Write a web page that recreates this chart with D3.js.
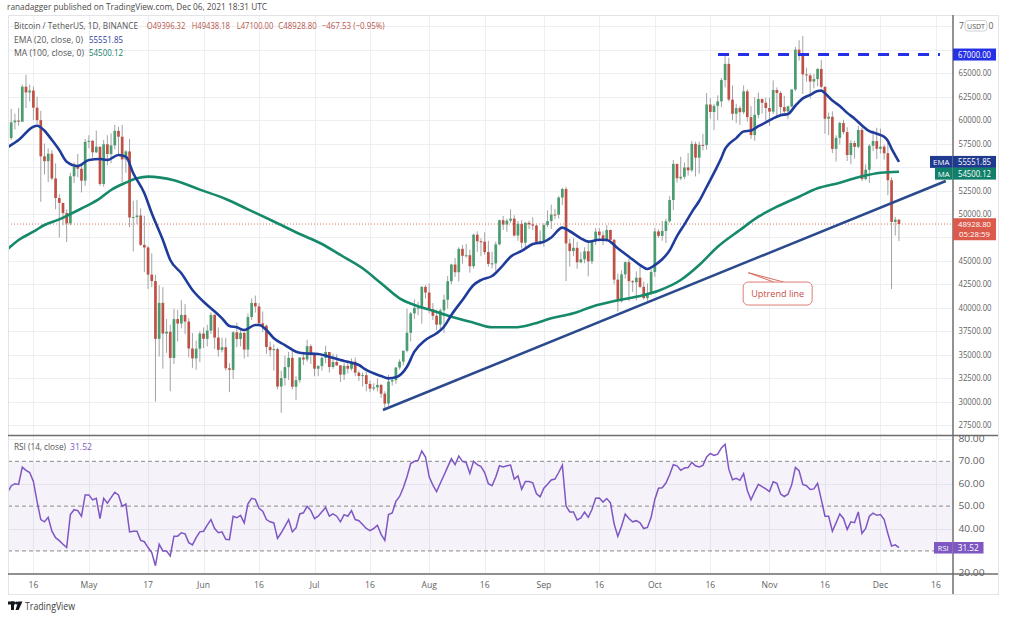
<!DOCTYPE html>
<html><head><meta charset="utf-8">
<script src="https://cdn.jsdelivr.net/npm/d3@7"></script>
<style>html,body{margin:0;padding:0;background:#fff;}svg{display:block;font-family:"Open Sans",sans-serif;}</style>
</head><body>
<svg id="chart" width="1009" height="625"></svg>
<script>
// ---------------- DATA ----------------
const startDate = "2021-04-09"; // first daily candle, one candle per day
const opens = [
57980,58100,59770,59960,59840,63575,62960,63160,61335,60006,56150,55633,56425,53788,51700,51182,50100,49004,54021,55033,54824,53555,
57697,57800,56578,57169,53200,57436,56393,57314,58862,58240,55816,56670,49631,49670,49841,46708,46426,43538,42850,36690,40526,37252,37449,34655,38796,38324,39241,38529,35663,34606,35641,
37253,36694,37568,39246,36829,35513,35796,33552,33380,37388,36675,37331,35546,39020,40516,40144,38349,38092,35820,35483,35600,31608,32509,33678,34663,31584,32283,34700,34494,35911,
35045,33504,33786,34669,35287,33690,34220,33862,32875,33815,33502,34258,33086,32730,32820,31880,31383,31520,31778,30839,29790,32144,32287,33634,34258,35425,37337,39406,39995,40008,42235,
41626,39846,39147,38207,39723,40862,42836,44614,43792,46285,45543,45602,44428,47793,47096,47047,45937,44686,44741,46763,49339,48867,49285,49507,47707,48960,46942,49059,48895,48767,46991,
47130,48817,49246,49942,49924,51757,52663,46863,46048,46396,44851,45171,46026,44948,47111,48121,47738,47311,48293,47242,42998,40698,43565,44864,42836,42716,43208,42236,41034,41524,
43824,48142,47666,48200,49225,51494,55340,53806,53967,54968,54660,57472,56006,57368,57347,61673,60875,61528,62010,64280,66002,62193,60688,61286,60853,63078,60328,58413,60575,62253,61859,
61300,60911,63219,62896,61395,60937,61470,63273,67525,66947,64882,64774,64122,64380,65466,63557,60161,60368,56942,58119,59697,58730,56289,57569,57160,58960,53726,54721,57274,57776,
56950,57184,56480,53601,49152,49396.32];
const highs = [
58900,61200,60700,61300,63800,64854,63800,63600,62500,61000,57500,57000,56800,55400,52100,51200,50500,54400,55500,56400,55200,58000,
58400,57900,58900,57200,57900,58400,58600,59500,59300,59500,56800,58000,51400,51500,50600,49800,46600,45800,43500,42400,42200,38800,38200,39900,39800,40800,40400,38900,37300,36500,37500,
37900,38200,39500,39300,37900,36800,36800,34100,37500,38400,37700,37400,39400,41000,41300,40500,39600,38200,36400,36100,35750,33300,34900,35300,35500,32700,34700,35300,36600,36100,
35050,33900,34950,35950,35300,35100,35050,33900,34100,34300,34600,34700,33300,33100,33200,32250,31950,32450,31900,31100,32850,32600,33650,34500,35400,39900,39550,40900,40650,42300,42400,
42600,40500,39800,39900,41400,43400,44700,45300,46450,46700,46800,46200,47900,48150,47400,48050,47150,46000,47050,49400,49800,49500,50500,49870,49250,49350,49150,49300,49650,48900,48250,
49000,50400,51000,50550,51900,52800,52900,47350,47400,47050,45950,46450,46900,47250,48500,48500,48150,48800,48350,47350,43650,44000,44950,45200,42950,43900,44350,42800,42600,44100,
48500,48350,49250,49500,51900,55750,55350,56100,55500,56500,57800,57700,57700,58550,62900,62350,61700,62650,64500,67000,66650,63700,61750,61500,63700,63300,61500,62450,62950,62300,62400,
62400,64250,63500,63100,62600,61550,63300,67800,68530,69000,65600,65000,64900,65550,66400,63600,60800,60950,58400,59850,60050,59250,57850,57800,59400,59200,55300,57450,58900,59200,
59100,57400,57600,53900,49700,49438.18];
const lows = [
57000,57900,59000,59400,59800,61300,62000,60000,59600,51300,54200,53400,53600,50500,47500,48800,47000,48800,53300,53900,52300,53000,
57000,56000,56500,53000,52900,55200,55400,56900,56200,53400,54400,48600,46000,48900,46600,43800,42000,42200,30000,34800,33500,35200,31100,34000,36400,37800,37200,34700,33600,33400,34200,
35700,35900,37200,35600,34800,35250,33300,31000,32400,35800,35900,34600,34750,38700,39500,38100,37400,35100,34800,33300,31300,28800,31700,32300,31300,30150,32000,33900,34250,34000,
32700,32700,33300,34100,33100,33500,33800,32100,32300,33000,33300,32700,32200,31600,31100,31000,31150,31100,30400,29278,29500,31700,31900,33400,33850,35250,36400,38800,39200,38300,41000,
39400,38700,37650,37500,37300,39900,42500,43300,42800,44700,45350,43750,44200,45950,45500,45650,44400,44200,43950,46650,48300,48100,49050,47600,47150,46300,46400,48400,48300,46850,46700,
46500,48600,48400,49450,49500,50950,42850,44400,45500,44150,44750,44750,43350,44650,46700,47050,46700,47050,46850,42500,39600,40550,43100,40700,41700,40800,42100,40900,40750,41400,
43300,47450,47150,46900,49050,50400,53350,53600,53700,54100,54450,54000,54300,56800,56850,60150,58950,60000,61400,63500,62000,60000,59700,59500,60650,59850,58000,57800,60200,60700,59950,
59400,60650,60400,60650,60750,60100,61350,63100,66350,62800,64100,62300,63400,63600,63400,58550,58400,56500,55600,57400,58500,55650,55300,55900,57000,53500,53600,53300,56700,55850,
56450,55800,52000,42000,47700,47100];
const closes = [
58100,59770,59960,59840,63575,62960,63160,61335,60006,56150,55633,56425,53788,51700,51182,50100,49004,54021,55033,54824,53555,57697,
57800,56578,57169,53200,57436,56393,57314,58862,58240,55816,56670,49631,49670,49841,46708,46426,43538,42850,36690,40526,37252,37449,34655,38796,38324,39241,38529,35663,34606,35641,37253,
36694,37568,39246,36829,35513,35796,33552,33380,37388,36675,37331,35546,39020,40516,40144,38349,38092,35820,35483,35600,31608,32509,33678,34663,31584,32283,34700,34494,35911,35045,
33504,33786,34669,35287,33690,34220,33862,32875,33815,33502,34258,33086,32730,32820,31880,31383,31520,31778,30839,29790,32144,32287,33634,34258,35425,37337,39406,39995,40008,42235,41626,
39846,39147,38207,39723,40862,42836,44614,43792,46285,45543,45602,44428,47793,47096,47047,45937,44686,44741,46763,49339,48867,49285,49507,47707,48960,46942,49059,48895,48767,46991,47130,
48817,49246,49942,49924,51757,52663,46863,46048,46396,44851,45171,46026,44948,47111,48121,47738,47311,48293,47242,42998,40698,43565,44864,42836,42716,43208,42236,41034,41524,43824,
48142,47666,48200,49225,51494,55340,53806,53967,54968,54660,57472,56006,57368,57347,61673,60875,61528,62010,64280,66002,62193,60688,61286,60853,63078,60328,58413,60575,62253,61859,61300,
60911,63219,62896,61395,60937,61470,63273,67525,66947,64882,64774,64122,64380,65466,63557,60161,60368,56942,58119,59697,58730,56289,57569,57160,58960,53726,54721,57274,57776,56950,
57184,56480,53601,49152,49396.32,48928.80];
const rsiValues = [
56,59,60,59.7,67.4,66,65,61,52,44, 43,45,38.8,35.9,34.6,33,31.5,46.2,48.4,48,
45.5,55,55,52.8,53.5,44.4,53.5,51.3,53.8,56.2, 55,49.9,50.9,38.5,38.8,38.8,34.7,34.1,31.5,29.3,
23.4,33,30,30,27.8,36.6,36.6,38.1,37.6,33.7, 32.7,35.9,38.5,38.8,41.5,44,40,38.1,38.5,35.2,
35,45.5,44.8,45.9,42.5,51,53.5,53,49,47.7, 44,43,42.5,35.6,38.1,41,44,38.5,40.3,46.5,
47,49.9,48,44.4,45.5,47.5,49.4,45.5,46.5,45.5, 43,46.2,45.5,48,44,43.5,41.8,40,39.1,40,
41.5,37.4,34.7,46.2,46.9,52.1,54.3,58.2,63.1,69, 70,70.4,74.6,71.9,63.1,59.4,56.5,60.2,63.8,67.5,
71.2,68.5,72.4,70,69.4,64.6,
70,68.5,67.7,65,60,59.1,63,68,67.5,68, 68.3,62,63.5,57.5,61,61,60.4,55.5,54.2,58,
59.8,61.7,62.1,65,68.3,50,47.4,47.4,43.8,44.7, 47.3,45,48.5,53.5,53.6,51.8,53.4,51.5,42,36.5,
41,46.5,44.5,43,43.5,42.5,40,40.5,45,53, 58,58.2,60.3,64,68.5,68,66,67,67.2,69.5,
68,67.5,68.2,72,73.5,72.6,73.2,76,77.6,
66.5,61.8,62.4,61.5,64.5,57,52.8,56.5,59.7,58.7, 57.7,56.5,60.9,60.2,55.4,54.3,55.3,59.5,67.3,65.8,
59.7,59.1,57.4,57.7,60.2,53,45.5,45.5,38.8,42.5, 46.5,44.5,39.6,43,42.6,47.4,37.8,40,45.5,46.9,
45.9,46.2,44,37.8,32.2,32.7,31.52];
const emaPoints = [
["2021-04-09",57110],["2021-04-12",57890],["2021-04-16",59310],["2021-04-17",59410],["2021-04-19",58880],["2021-04-21",57890],
["2021-04-23",56820],["2021-04-25",55580],["2021-04-28",55120],["2021-05-01",55760],["2021-05-04",55860],["2021-05-06",55760],
["2021-05-09",56290],["2021-05-11",56110],["2021-05-13",54340],["2021-05-16",52210],["2021-05-18",50070],["2021-05-21",47230],
["2021-05-23",45100],["2021-05-26",43680],["2021-05-29",41900],["2021-06-01",40650],["2021-06-03",39950],["2021-06-06",38880],
["2021-06-08",38060],["2021-06-10",37920],["2021-06-12",37630],["2021-06-15",38170],["2021-06-16",38170],["2021-06-18",37630],
["2021-06-20",36750],["2021-06-23",36030],["2021-06-26",35320],["2021-06-28",35150],["2021-07-02",35070],["2021-07-05",34790],
["2021-07-08",34430],["2021-07-10",34250],["2021-07-13",33900],["2021-07-15",33370],["2021-07-19",32730],["2021-07-21",32480],
["2021-07-23",32590],["2021-07-26",33720],["2021-07-28",35320],["2021-07-31",36570],["2021-08-03",37280],["2021-08-05",37980],
["2021-08-07",39230],["2021-08-10",40830],["2021-08-13",42430],["2021-08-15",42960],["2021-08-18",43390],["2021-08-21",44560],
["2021-08-23",45440],["2021-08-26",46060],["2021-08-29",46800],["2021-09-01",47030],["2021-09-03",47500],["2021-09-06",48550],
["2021-09-08",48160],["2021-09-11",47410],["2021-09-13",47050],["2021-09-16",47260],["2021-09-18",47230],["2021-09-21",46340],
["2021-09-24",45450],["2021-09-27",44560],["2021-09-29",44140],["2021-10-01",44557],["2021-10-03",45172],["2021-10-05",46123],
["2021-10-07",47649],["2021-10-09",48890],["2021-10-11",50204],["2021-10-13",51386],["2021-10-15",52879],["2021-10-17",54391],
["2021-10-19",55990],["2021-10-20",56943],["2021-10-21",57443],["2021-10-23",58089],["2021-10-25",58802],["2021-10-27",58896],
["2021-10-29",59360],["2021-10-31",59760],["2021-11-02",60189],["2021-11-04",60537],["2021-11-06",60660],["2021-11-08",61539],
["2021-11-10",62323],["2021-11-12",62705],["2021-11-14",63113],["2021-11-15",63155],["2021-11-16",62870],["2021-11-18",62090],
["2021-11-20",61520],["2021-11-22",60781],["2021-11-24",60159],["2021-11-26",59443],["2021-11-28",58829],["2021-11-30",58560],
["2021-12-02",58243],["2021-12-03",57801],["2021-12-04",56977],["2021-12-05",56255],["2021-12-06",55551.85]];
const maPoints = [
["2021-04-09",46240],["2021-04-12",47230],["2021-04-16",48110],["2021-04-19",48830],["2021-04-23",49430],["2021-04-26",50000],
["2021-04-30",50780],["2021-05-04",51670],["2021-05-07",52560],["2021-05-11",53340],["2021-05-14",53810],["2021-05-17",53980],
["2021-05-24",53600],["2021-05-31",52600],["2021-06-07",51600],["2021-06-13",50500],["2021-06-20",49200],["2021-06-27",47870],
["2021-07-03",46800],["2021-07-08",45630],["2021-07-14",44210],["2021-07-19",42610],["2021-07-24",41010],["2021-07-28",40300],
["2021-08-02",39690],["2021-08-07",39050],["2021-08-13",38410],["2021-08-18",37920],["2021-08-24",37920],["2021-08-29",38270],
["2021-09-03",38880],["2021-09-09",39410],["2021-09-14",40120],["2021-09-21",40800],["2021-09-27",41260],["2021-10-02",41820],
["2021-10-08",42960],["2021-10-13",44560],["2021-10-18",46510],["2021-10-24",48290],["2021-10-29",49710],["2021-11-03",50780],
["2021-11-09",51840],["2021-11-14",52740],["2021-11-20",53340],["2021-11-25",53910],["2021-12-01",54400],["2021-12-06",54500.12]];
const uptrendLine = [["2021-07-19T12:00:00Z",29100],["2021-12-18T16:00:00Z",53520]];
const resistanceLine = [["2021-10-18T02:00:00Z",67000],["2021-12-17T02:00:00Z",67000]];
const callout = {tip:["2021-10-26T07:00:00Z",43740], box:["2021-11-03T05:00:00Z",41520], text:"Uptrend line"};
const priceTicks = [27500,30000,32500,35000,37500,40000,42500,45000,47500,50000,52500,55000,57500,60000,62500,65000,67500];
const topTickLabel = ["7","0"]; // visible ends of "70000.00" beside the USDT badge
const rsiTicks = [80,70,60,50,40,20];
const rsiDashed = [70,50,30];
const timeTicks = [["2021-04-16","16"],["2021-05-01","May"],["2021-05-17","17"],["2021-06-01","Jun"],["2021-06-16","16"],
["2021-07-01","Jul"],["2021-07-16","16"],["2021-08-01","Aug"],["2021-08-16","16"],["2021-09-01","Sep"],["2021-09-16","16"],
["2021-10-01","Oct"],["2021-10-16","16"],["2021-11-01","Nov"],["2021-11-16","16"],["2021-12-01","Dec"],["2021-12-16","16"]];
const lastPrice = 48928.80, lastEma = 55551.85, lastMa = 54500.12, lastRsi = 31.52;
const countdown = "05:28:59";
const publisher = "ranadagger published on TradingView.com, Dec 06, 2021 18:31 UTC";
const headerTitle = "Bitcoin / TetherUS, 1D, BINANCE";
const headerOHLC = ["O49396.32","H49438.18","L47100.00","C48928.80","\u2212467.53 (\u22120.95%)"];

// ---------------- LAYOUT ----------------
const L = 8, AX = 953, R = 998, TOP = 15, MAINB = 435, RSIB = 574, BOT = 594;
const svg = d3.select("#chart");
const parse = s => new Date(s.length === 10 ? s + "T00:00:00Z" : s);
const t0 = parse(startDate);
const dates = closes.map((_, i) => d3.utcDay.offset(t0, i));
const x = d3.scaleUtc().domain([t0, parse("2021-12-21")]).range([7.5, 7.5 + 3.699 * 256]);
const y = d3.scaleLinear().domain([26439, 71215]).range([MAINB, TOP]);
const yr = d3.scaleLinear().domain([19.7, 81.3]).range([RSIB, 436]);
const f2 = d3.format(".2f");

function txt(parent, xx, yy, s, size, fill, width, anchor) {
  const t = parent.append("text").attr("x",xx).attr("y",yy).attr("font-size",size).attr("fill",fill).text(s);
  if (anchor) t.attr("text-anchor",anchor);
  if (width) t.attr("textLength",width).attr("lengthAdjust","spacingAndGlyphs");
  return t;
}

svg.append("rect").attr("width",1009).attr("height",625).attr("fill","#fff");
const defs = svg.append("defs");
defs.append("clipPath").attr("id","mainClip").append("rect").attr("x",L).attr("y",TOP).attr("width",AX-L).attr("height",MAINB-TOP);
defs.append("clipPath").attr("id","rsiClip").append("rect").attr("x",L).attr("y",436).attr("width",AX-L).attr("height",RSIB-436);

// grid
const grid = svg.append("g").attr("stroke","#eeeff2").attr("stroke-width",1);
timeTicks.forEach(([d]) => { const xx = Math.round(x(parse(d))) + 0.5;
  grid.append("line").attr("x1",xx).attr("x2",xx).attr("y1",TOP).attr("y2",RSIB); });
priceTicks.concat([70000]).forEach(p => { const yy = Math.round(y(p)) + 0.5; if (yy > TOP && yy < MAINB)
  grid.append("line").attr("x1",L).attr("x2",AX).attr("y1",yy).attr("y2",yy); });
[60,40,20,80].forEach(v => { const yy = Math.round(yr(v)) + 0.5;
  grid.append("line").attr("x1",L).attr("x2",AX).attr("y1",yy).attr("y2",yy); });

// RSI band + dashed levels
svg.append("rect").attr("x",L).attr("width",AX-L).attr("y",yr(70)).attr("height",yr(30)-yr(70))
  .attr("fill","#7e57c2").attr("fill-opacity",0.08);
rsiDashed.forEach(v => svg.append("line").attr("x1",L).attr("x2",AX).attr("y1",yr(v)).attr("y2",yr(v))
  .attr("stroke","#8a8a8a").attr("stroke-width",1).attr("stroke-dasharray","4,3"));

// last price dotted line
svg.append("line").attr("x1",L).attr("x2",AX).attr("y1",y(lastPrice)).attr("y2",y(lastPrice))
  .attr("stroke","#e0705f").attr("stroke-width",1).attr("stroke-dasharray","1,2");

const main = svg.append("g").attr("clip-path","url(#mainClip)");
// candles
const up = "#4b9c70", down = "#bf5045";
const cg = main.append("g");
cg.selectAll("line.w").data(closes).join("line").attr("class","w")
  .attr("x1",(d,i)=>x(dates[i])).attr("x2",(d,i)=>x(dates[i]))
  .attr("y1",(d,i)=>y(highs[i])).attr("y2",(d,i)=>y(lows[i]))
  .attr("stroke","#a3a3a3").attr("stroke-width",1);
cg.selectAll("rect.b").data(closes).join("rect").attr("class","b")
  .attr("x",(d,i)=>x(dates[i]) - 1.35).attr("width",2.7)
  .attr("y",(d,i)=>y(Math.max(opens[i],d)))
  .attr("height",(d,i)=>Math.max(1, Math.abs(y(opens[i]) - y(d))))
  .attr("fill",(d,i)=> d >= opens[i] ? up : down);

// MA & EMA
const lineGen = d3.line().x(d=>x(parse(d[0]))).y(d=>y(d[1])).curve(d3.curveMonotoneX);
main.append("path").attr("d",lineGen(maPoints)).attr("fill","none").attr("stroke","#15896a").attr("stroke-width",2.6);
main.append("path").attr("d",lineGen(emaPoints)).attr("fill","none").attr("stroke","#1f3c9b").attr("stroke-width",2.6);

// uptrend line and 67000 resistance
const straight = d3.line().x(d=>x(parse(d[0]))).y(d=>y(d[1]));
main.append("path").attr("d",straight(uptrendLine)).attr("stroke","#2b4a8d").attr("stroke-width",2.6).attr("fill","none");
main.append("path").attr("d",straight(resistanceLine)).attr("stroke","#2430e6").attr("stroke-width",3)
  .attr("stroke-dasharray","11,9").attr("fill","none");

// callout
const tipX = x(parse(callout.tip[0])), tipY = y(callout.tip[1]);
const bx = x(parse(callout.box[0])), by = y(callout.box[1]);
main.append("path").attr("d",`M${tipX},${tipY}L${bx+6},${by-11.5}M${tipX},${tipY}L${bx-4},${by-11.5}`)
  .attr("stroke","#d96a60").attr("stroke-width",1).attr("fill","none");
main.append("rect").attr("x",bx-34.5).attr("y",by-11.5).attr("width",69).attr("height",23).attr("rx",5)
  .attr("fill","#fff").attr("fill-opacity",0.9).attr("stroke","#df7d74").attr("stroke-width",1);
txt(main, bx, by+3.3, callout.text, 9, "#c84f46", 53, "middle");

// RSI line
svg.append("g").attr("clip-path","url(#rsiClip)").append("path")
  .attr("d", d3.line().x((d,i)=>x(dates[i])).y(d=>yr(d))(rsiValues))
  .attr("fill","none").attr("stroke","#7e57c2").attr("stroke-width",1.5);

// frame & separators
svg.append("rect").attr("x",L+0.5).attr("y",TOP+0.5).attr("width",R-L).attr("height",BOT-TOP)
  .attr("fill","none").attr("stroke","#e3e4e8");
svg.append("line").attr("x1",L).attr("x2",R).attr("y1",435.5).attr("y2",435.5).attr("stroke","#6e6e6e").attr("stroke-width",1.5);
svg.append("line").attr("x1",L).attr("x2",R).attr("y1",574).attr("y2",574).attr("stroke","#6e6e6e").attr("stroke-width",1.5);
svg.append("line").attr("x1",AX).attr("x2",AX).attr("y1",TOP).attr("y2",BOT).attr("stroke","#6e6e6e").attr("stroke-width",1.5);

// value boxes positions (labels hidden beneath them are skipped)
const emaY = y(lastEma), maY = Math.max(y(lastMa), emaY + 11.7), lpY = y(lastPrice), rY = yr(lastRsi);
const covered = [y(67000), emaY, maY, lpY, lpY + 10];
const axisCol = "#5f5f5f", fs = 8.6, LW = 33;
priceTicks.forEach(p => { const yy = y(p);
  if (covered.some(c => Math.abs(c - yy) < 8)) return;
  txt(svg, 958.5, yy+3, f2(p), fs, axisCol, LW); });
txt(svg, 959, y(70000)+3, topTickLabel[0], fs, axisCol);
txt(svg, 988.5, y(70000)+3, topTickLabel[1], fs, axisCol);
rsiTicks.forEach(v => txt(svg, 958.5, yr(v)+3, f2(v), fs, axisCol, 26));
timeTicks.forEach(([d,l]) => txt(svg, x(parse(d)), 587.5, l, fs, axisCol, null, "middle"));

// USDT badge
svg.append("rect").attr("x",965).attr("y",20.5).attr("width",22).attr("height",10.5).attr("rx",3)
  .attr("fill","#fff").attr("stroke","#cfd1d6");
txt(svg, 976, 28.6, "USDT", 7.2, "#555", 18, "middle");

// right-side value boxes
function valBox(cy, color, s, tag, tagX) {
  svg.append("rect").attr("x",953).attr("y",cy-6).attr("width",43).attr("height",12).attr("fill",color);
  txt(svg, 974.5, cy+3, s, fs, "#fff", LW, "middle");
  if (tag) {
    svg.append("rect").attr("x",tagX).attr("y",cy-6).attr("width",952.5-tagX).attr("height",12).attr("fill",color);
    txt(svg, (tagX+952.5)/2, cy+3, tag, 7.8, "#fff", null, "middle");
  }
}
valBox(y(67000), "#2430e6", f2(67000));
valBox(emaY, "#1f3a8f", f2(lastEma), "EMA", 930);
valBox(maY, "#10806a", f2(lastMa), "MA", 935);
// last price box (two lines)
svg.append("rect").attr("x",953).attr("y",lpY-5.8).attr("width",43).attr("height",22).attr("fill","#dc5a4b");
txt(svg, 974.5, lpY+2.6, f2(lastPrice), 7.6, "#fff", LW, "middle");
txt(svg, 974.5, lpY+13.2, countdown, 7.6, "#fff", 31, "middle");
// RSI box
svg.append("rect").attr("x",953).attr("y",rY-5.5).attr("width",30.5).attr("height",11.5).attr("fill","#7e57c2");
txt(svg, 968.2, rY+3, f2(lastRsi), fs, "#fff", 21, "middle");
svg.append("rect").attr("x",934).attr("y",rY-5.5).attr("width",18.5).attr("height",11.5).attr("fill","#7e57c2");
txt(svg, 943.2, rY+3, "RSI", 7.4, "#fff", null, "middle");

// header texts
const hs = 8.8;
txt(svg, 7, 9.5, publisher, hs, "#4a4a4a", 260);
txt(svg, 14, 29.3, headerTitle, hs, "#555", 124);
const ohlcX = [146.7,191.7,236.7,278.3,321.7], ohlcW = [38.6,38.3,36.6,38.4,63];
headerOHLC.forEach((t,i)=> txt(svg, ohlcX[i], 29.3, t, hs, "#b8564b", ohlcW[i]));
txt(svg, 14, 42.5, "EMA (20, close, 0)", hs, "#555", 69);
txt(svg, 89, 42.5, f2(lastEma), hs, "#2b3fa0", 34);
txt(svg, 14, 55.5, "MA (100, close, 0)", hs, "#555", 70);
txt(svg, 89, 55.5, f2(lastMa), hs, "#14806a", 34);
txt(svg, 14, 450, "RSI (14, close)", hs, "#555", 52);
txt(svg, 70, 450, f2(lastRsi), hs, "#7e57c2", 22);

// footer logo
const logo = svg.append("g").attr("fill","#131722");
logo.append("rect").attr("x",8).attr("y",601.5).attr("width",7).attr("height",3);
logo.append("rect").attr("x",11).attr("y",601.5).attr("width",3).attr("height",8.5);
logo.append("circle").attr("cx",16.6).attr("cy",603).attr("r",1.6);
logo.append("path").attr("d","M18.2,601.5L22.5,601.5L18.6,610L15.6,610Z");
txt(svg, 25, 610, "TradingView", 10, "#404040", 50);
</script>
</body></html>
